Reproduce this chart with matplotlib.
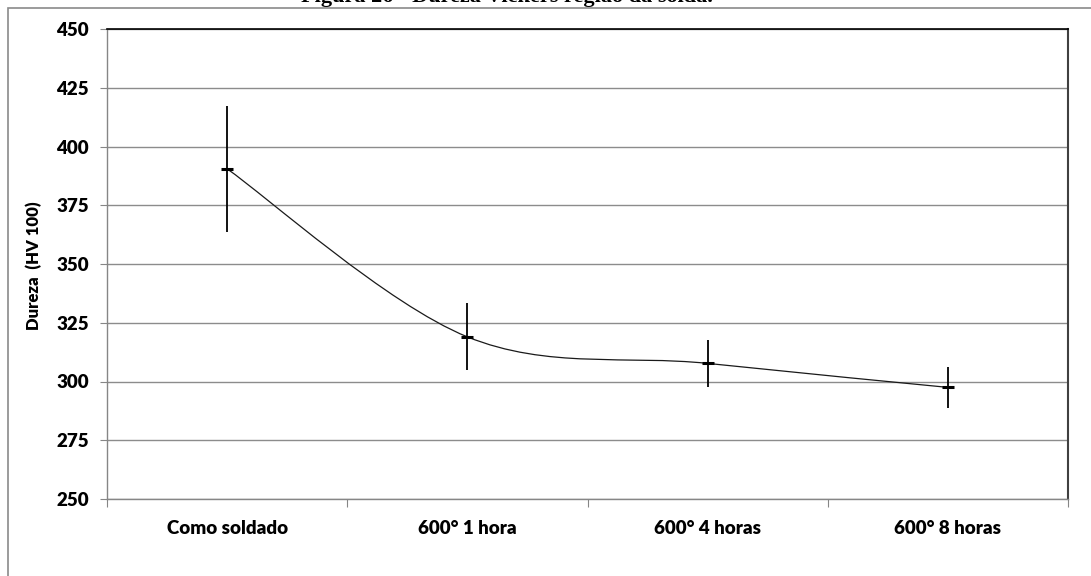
import matplotlib
matplotlib.use("Agg")
import matplotlib.pyplot as plt
from matplotlib.path import Path
from matplotlib.patches import PathPatch, Rectangle
from matplotlib.font_manager import FontProperties

categories = ["Como soldado", "600° 1 hora", "600° 4 horas", "600° 8 horas"]
dureza = [390.5, 319.0, 307.7, 297.5]
erro = [26.8, 14.3, 10.0, 8.7]
y_ticks = [250, 275, 300, 325, 350, 375, 400, 425, 450]
titulo = "Figura 26 - Dureza Vickers região da solda."

W, H = 1091, 576
fig = plt.figure(figsize=(W / 100, H / 100), dpi=100)
ax = fig.add_axes([107 / W, 1 - 499 / H, (1068 - 107) / W, (499 - 29) / H])

# outer chart border (cut by image edges) and the caption, cut at the top as in the source
fig.patches.append(Rectangle((8 / W, -0.1), 1.2, 1 - 8 / H + 0.1,
                             transform=fig.transFigure, fill=False,
                             edgecolor="#8a8a8a", linewidth=1.2))
fig.text(507 / W, 1 - 2 / H, titulo, ha="center", va="baseline",
         family="Liberation Serif", weight="bold", fontsize=16)

xs = list(range(len(categories)))

# smooth line like Excel: cubic Bezier through the points
pts = list(zip(xs, dureza))
verts = [pts[0]]
codes = [Path.MOVETO]
for i in range(len(pts) - 1):
    p0 = pts[i - 1] if i > 0 else pts[i]
    p1 = pts[i]
    p2 = pts[i + 1]
    p3 = pts[i + 2] if i + 2 < len(pts) else pts[i + 1]
    c1 = (p1[0] + (p2[0] - p0[0]) / 6, p1[1] + (p2[1] - p0[1]) / 6)
    c2 = (p2[0] - (p3[0] - p1[0]) / 6, p2[1] - (p3[1] - p1[1]) / 6)
    verts += [c1, c2, p2]
    codes += [Path.CURVE4] * 3
ax.add_patch(PathPatch(Path(verts, codes), fill=False, edgecolor="#1a1a1a",
                       linewidth=0.9, zorder=3))

ax.errorbar(xs, dureza, yerr=erro, fmt="_", color="black", ecolor="black",
            elinewidth=1.3, capsize=0, markersize=9, markeredgewidth=2.2,
            zorder=4)

ax.set_xlim(-0.5, len(categories) - 0.5)
ax.set_ylim(250, 450)
ax.set_yticks(y_ticks)
ax.set_xticks([x - 0.5 for x in range(len(categories) + 1)])
ax.set_xticklabels([])
ax.set_xticks(xs, minor=True)
ax.set_xticklabels(categories, minor=True)

ax.grid(axis="y", color="#8c8c8c", linewidth=1.0)
ax.set_axisbelow(True)

for side in ["left", "bottom"]:
    ax.spines[side].set_color("#868686")
    ax.spines[side].set_linewidth(1.0)
ax.spines["top"].set_color("black")
ax.spines["top"].set_linewidth(1.2)
ax.spines["right"].set_color("#404040")
ax.spines["right"].set_linewidth(1.5)

ax.tick_params(axis="y", which="major", length=5, color="#868686", pad=8)
ax.tick_params(axis="x", which="major", length=6, color="#868686")
ax.tick_params(axis="x", which="minor", length=0, pad=15)
fp = FontProperties(family="Lato", weight="heavy", size=13.5)
for t in ax.get_yticklabels() + ax.get_xticklabels(minor=True):
    t.set_fontproperties(fp)

fig.text(34 / W, 1 - 266 / H, "Dureza  (HV 100)", rotation=90,
         ha="center", va="center", family="Lato", weight="heavy", fontsize=12)

fig.savefig("out.png", dpi=100)
